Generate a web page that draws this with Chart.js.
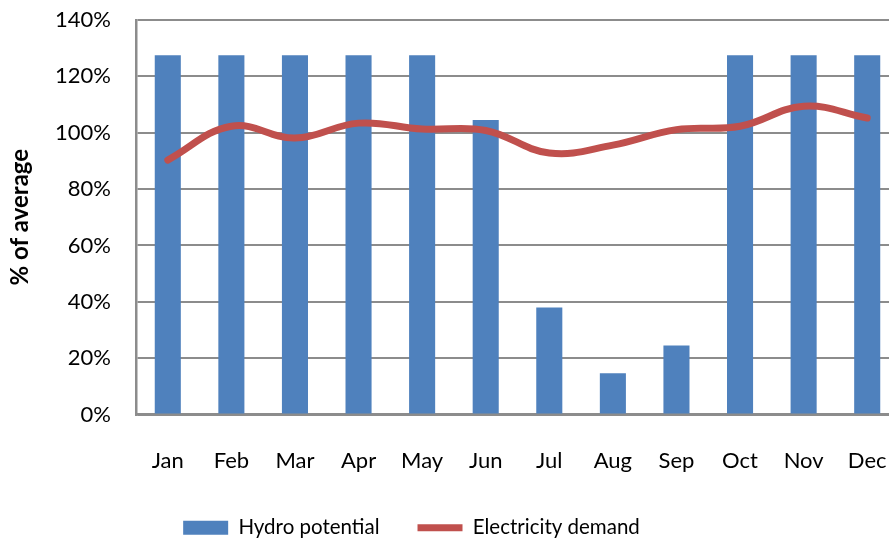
<!DOCTYPE html>
<html lang="en">
<head>
    <meta charset="UTF-8">
    <title>Hydro potential vs electricity demand</title>
    <style>
        html, body {
            margin: 0;
            padding: 0;
            overflow: hidden;
            background: #fff;
        }
        #wrap {
            width: 899px;
            height: 548px;
        }
    </style>
</head>
<body>
    <div id="wrap"><canvas id="chart"></canvas></div>

    <script src="https://cdn.jsdelivr.net/npm/chart.js"></script>
    <script>
        // data
        const months = ['Jan', 'Feb', 'Mar', 'Apr', 'May', 'Jun', 'Jul', 'Aug', 'Sep', 'Oct', 'Nov', 'Dec'];
        const hydroPotential = [127.5, 127.5, 127.5, 127.5, 127.5, 104.5, 38, 14.6, 24.5, 127.5, 127.5, 127.5];
        const electricityDemand = [90.3, 102.3, 98.1, 103.4, 101.3, 100.8, 92.8, 95.6, 101.1, 102.3, 109.4, 105.2];
        const yTicks = [0, 20, 40, 60, 80, 100, 120, 140];

        const FONT = 'Lato, "Open Sans", sans-serif';
        const GRID = '#8c8c8c';

        // shift legend left, Excel doesn't centre it on the canvas
        const legendShift = {
            id: 'legendShift',
            afterLayout(chart) {
                chart.legend.left -= 38;
                chart.legend.right -= 38;
            }
        };

        const ctx = document.getElementById('chart').getContext('2d');
        new Chart(ctx, {
            type: 'bar',
            data: {
                labels: months,
                datasets: [
                    {
                        type: 'line',
                        label: 'Electricity demand',
                        data: electricityDemand,
                        borderColor: '#C0504D',
                        backgroundColor: '#C0504D',
                        borderWidth: 7,
                        tension: 0.4,
                        pointRadius: 0,
                        pointStyle: 'line',
                        borderCapStyle: 'round',
                        order: 1
                    },
                    {
                        label: 'Hydro potential',
                        data: hydroPotential,
                        backgroundColor: '#4F81BD',
                        borderWidth: 0,
                        pointStyle: 'rect',
                        barPercentage: 0.41,
                        categoryPercentage: 1,
                        order: 2
                    }
                ]
            },
            options: {
                responsive: true,
                maintainAspectRatio: false,
                animation: false,
                layout: { padding: { top: 20, right: 0, bottom: 0, left: 0 } },
                plugins: {
                    tooltip: { enabled: false },
                    legend: {
                        position: 'bottom',
                        reverse: true,
                        labels: {
                            usePointStyle: true,
                            pointStyleWidth: 45,
                            boxHeight: 14,
                            padding: 38,
                            color: '#000',
                            font: { family: FONT, size: 20.5 }
                        }
                    }
                },
                scales: {
                    x: {
                        grid: { display: false, drawTicks: false },
                        border: { color: GRID, width: 2.5 },
                        ticks: {
                            padding: 33,
                            color: '#000',
                            font: { family: FONT, size: 22 }
                        },
                        afterFit(scale) {
                            scale.height = 65;
                            scale.paddingLeft = 0;
                            scale.paddingRight = 0;
                        }
                    },
                    y: {
                        min: 0,
                        max: 140,
                        afterBuildTicks(scale) {
                            scale.ticks = yTicks.map(v => ({ value: v }));
                        },
                        grid: { color: GRID, lineWidth: 2, drawTicks: false },
                        border: { color: GRID, width: 2.5 },
                        ticks: {
                            padding: 25,
                            color: '#000',
                            font: { family: FONT, size: 22 },
                            callback: v => v + '%'
                        },
                        title: {
                            display: true,
                            text: '% of average',
                            color: '#000',
                            padding: { top: 6, bottom: 0 },
                            font: { family: FONT, size: 24, weight: 'bold' }
                        },
                        afterFit(scale) {
                            scale.width = 136;
                            scale.paddingTop = 0;
                            scale.paddingBottom = 0;
                        }
                    }
                }
            },
            plugins: [legendShift]
        });
    </script>
</body>
</html>
